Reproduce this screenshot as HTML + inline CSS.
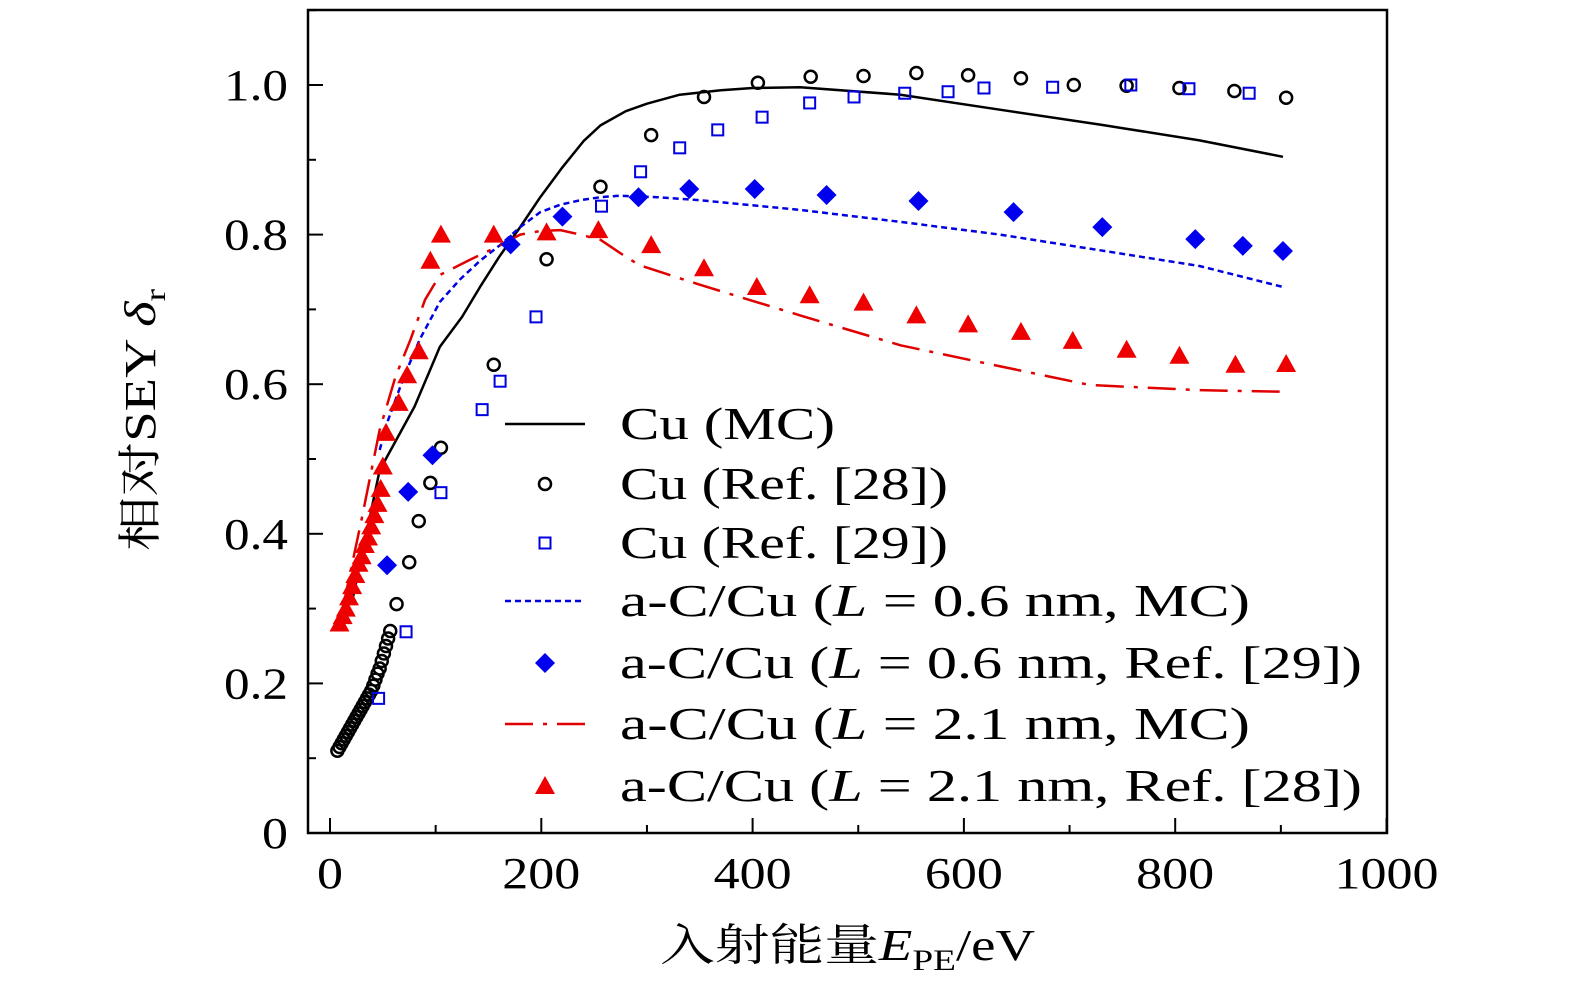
<!DOCTYPE html>
<html><head><meta charset="utf-8"><style>
body{margin:0;background:#fff}
svg{display:block}
text{font-family:"Liberation Serif","Noto Serif CJK SC",serif;fill:#000}
</style></head><body>
<svg id="c" width="1575" height="994">
<rect x="308" y="10" width="1079" height="823" fill="none" stroke="#000" stroke-width="2.5"/>
<g id="ax"></g><g id="series"></g><g id="legend"></g>
<text x="155" y="420" font-size="44" text-anchor="middle" textLength="262" lengthAdjust="spacingAndGlyphs" transform="rotate(-90 155 420)">相对SEY <tspan font-style="italic">δ</tspan><tspan font-size="30" dy="10">r</tspan></text>
<text x="660" y="960" font-size="44" textLength="375" lengthAdjust="spacingAndGlyphs">入射能量<tspan font-style="italic">E</tspan><tspan font-size="30" dy="10">PE</tspan><tspan dy="-10">/eV</tspan></text>
</svg>
<script>
const xTicks=[0,200,400,600,800,1000];
const yTicks=[0,0.2,0.4,0.6,0.8,1.0];
const yTickLabels=["0","0.2","0.4","0.6","0.8","1.0"];
const cuMcE=[21,47,80,95,104,125,142,160,180,199,220,240,256,280,300,331,370,400,445,540,634,729,823,902];
const cuMcV=[0.31,0.485,0.57,0.62,0.65,0.69,0.73,0.77,0.81,0.85,0.89,0.925,0.946,0.965,0.975,0.987,0.993,0.996,0.997,0.987,0.967,0.947,0.926,0.904];
const cu28E=[7,9,11,13,15,17,19,21,23,25,27,29,31,33,35,37,39,41,43,45,47,49,51,53,55,57,63,75,84,95,105,155,205,256,304,354,405,455,505,555,604,654,704,754,804,856,905];
const cu28V=[0.11,0.115,0.12,0.125,0.13,0.135,0.14,0.145,0.15,0.155,0.16,0.165,0.17,0.175,0.18,0.185,0.19,0.197,0.205,0.213,0.22,0.23,0.24,0.25,0.26,0.27,0.306,0.362,0.417,0.468,0.515,0.626,0.767,0.864,0.933,0.984,1.003,1.011,1.012,1.016,1.013,1.009,1.0,0.999,0.996,0.992,0.983];
const cu29E=[46,72,105,144,161,195,257,294,331,367,409,454,496,544,585,619,684,758,813,870];
const cu29V=[0.18,0.269,0.455,0.566,0.604,0.69,0.838,0.884,0.916,0.94,0.957,0.976,0.984,0.989,0.991,0.996,0.997,1.0,0.995,0.989];
const c06McE=[47,55,70,85,104,123,142,161,180,199,218,237,256,274,310,350,445,540,634,729,823,902];
const c06McV=[0.512,0.552,0.61,0.66,0.71,0.74,0.765,0.786,0.81,0.83,0.84,0.846,0.85,0.852,0.85,0.846,0.833,0.817,0.8,0.779,0.758,0.73];
const c21McE=[12,30,47,62,76,90,104,132,160,180,200,218,237,256,275,293,350,445,540,634,719,823,902];
const c21McV=[0.3,0.42,0.539,0.61,0.659,0.713,0.746,0.766,0.785,0.8,0.805,0.806,0.8,0.793,0.775,0.759,0.733,0.692,0.652,0.624,0.599,0.592,0.59];
const c06RefE=[54,74,97,171,220,292,340,402,470,557,647,731,819,864,902];
const c06RefV=[0.358,0.456,0.505,0.787,0.824,0.85,0.861,0.861,0.853,0.845,0.83,0.81,0.794,0.785,0.778];
const c21RefE=[9,12,15,18,21,24,27,30,33,36,39,42,45,48,50,53,65,73,84,95,105,155,205,254,304,354,404,454,505,555,604,654,703,754,804,857,905];
const c21RefV=[0.28,0.29,0.3,0.315,0.33,0.345,0.36,0.37,0.385,0.395,0.41,0.425,0.44,0.46,0.49,0.535,0.575,0.612,0.644,0.765,0.8,0.8,0.803,0.806,0.786,0.755,0.73,0.719,0.709,0.692,0.68,0.67,0.658,0.646,0.638,0.626,0.627];

const X=v=>330+v*1.0565, Y=v=>833-v*748;
const NS="http://www.w3.org/2000/svg";
function mk(t,a,p){const e=document.createElementNS(NS,t);for(const k in a)e.setAttribute(k,a[k]);p.appendChild(e);return e;}
function tlen(s){let w=0;for(const c of s)w+=(c==='.')?12:26;return w;}
const ax=document.getElementById('ax');
xTicks.forEach((t,i)=>{
 const l=mk('line',{x1:X(t),x2:X(t),y1:833,y2:818,stroke:'#000','stroke-width':2},ax);
 
 
 if(i<xTicks.length-1){const m=mk('line',{x1:X(t+100),x2:X(t+100),y1:833,y2:825,stroke:'#000','stroke-width':2},ax);
 
 }
 const s=String(t);
 const tx=mk('text',{x:X(t),y:888,'font-size':44,'text-anchor':'middle',textLength:tlen(s),lengthAdjust:'spacingAndGlyphs'},ax);tx.textContent=s;
 
 
});
yTicks.forEach((t,i)=>{
 const l=mk('line',{x1:308,x2:323,y1:Y(t),y2:Y(t),stroke:'#000','stroke-width':2},ax);
 
 
 const m=mk('line',{x1:308,x2:316,y1:Y(t+0.1),y2:Y(t+0.1),stroke:'#000','stroke-width':2},ax);
 
 
 const s=yTickLabels[i];
 const tx=mk('text',{x:288,y:Y(t)+15,'font-size':44,'text-anchor':'end',textLength:tlen(s),lengthAdjust:'spacingAndGlyphs'},ax);tx.textContent=s;
 
 
});
const sg=document.getElementById('series');
function line(E,V,stroke,dash,name){
 const p=mk('polyline',{points:E.map((e,i)=>X(e)+','+Y(V[i])).join(' '),fill:'none',stroke:stroke,'stroke-width':2.5,'stroke-dasharray':dash,'stroke-linejoin':'round'},sg);
 
 
}
function marker(type,cx,cy,g){
 let e;
 if(type==='circle')e=mk('circle',{cx:cx,cy:cy,r:6,fill:'none',stroke:'#000','stroke-width':2.5},g);
 else if(type==='square')e=mk('rect',{x:cx-5.5,y:cy-5.5,width:11,height:11,fill:'none',stroke:'#0000e0','stroke-width':2},g);
 else if(type==='diamond')e=mk('polygon',{points:`${cx},${cy-10} ${cx+10},${cy} ${cx},${cy+10} ${cx-10},${cy}`,fill:'#0000ee'},g);
 else e=mk('polygon',{points:`${cx},${cy-10} ${cx+10},${cy+8} ${cx-10},${cy+8}`,fill:'#ee0000'},g);
 return e;
}
function pts(E,V,type,name){
 E.forEach((e,i)=>{const m=marker(type,X(e),Y(V[i]),sg);
 
 });
}
line(cuMcE,cuMcV,'#000','none','cu-mc-line');
line(c06McE,c06McV,'#0000e0','6 4','ac-cu-0.6-mc-line');
line(c21McE,c21McV,'#e00000','28 10 4 10','ac-cu-2.1-mc-line');
pts(cu28E,cu28V,'circle','cu-ref28-point');
pts(cu29E,cu29V,'square','cu-ref29-point');
pts(c06RefE,c06RefV,'diamond','ac-cu-0.6-ref29-point');
pts(c21RefE,c21RefV,'tri','ac-cu-2.1-ref28-point');

const lg=document.getElementById('legend');
const rows=[
 ['line','#000','none','Cu (MC)',215],
 ['circle','','','Cu (Ref. [28])',328],
 ['square','','','Cu (Ref. [29])',328],
 ['line','#0000e0','6 4','a-C/Cu (<tspan font-style="italic">L</tspan> = 0.6 nm, MC)',630],
 ['diamond','','','a-C/Cu (<tspan font-style="italic">L</tspan> = 0.6 nm, Ref. [29])',742],
 ['line','#e00000','28 10 4 10','a-C/Cu (<tspan font-style="italic">L</tspan> = 2.1 nm, MC)',630],
 ['tri','','','a-C/Cu (<tspan font-style="italic">L</tspan> = 2.1 nm, Ref. [28])',742]];
const rowY=[424,484,543,601,663,724,786];
rows.forEach((r,i)=>{
 const y=rowY[i];
 let s;
 if(r[0]==='line')s=mk('line',{x1:505,x2:585,y1:y,y2:y,stroke:r[1],'stroke-width':2.5,'stroke-dasharray':r[2]},lg);
 else s=marker(r[0],545,y,lg);
 
 
 const t=mk('text',{x:620,y:y+15,'font-size':46,textLength:r[4],lengthAdjust:'spacingAndGlyphs'},lg);t.innerHTML=r[3];
 
 
});
</script>
</body></html>
